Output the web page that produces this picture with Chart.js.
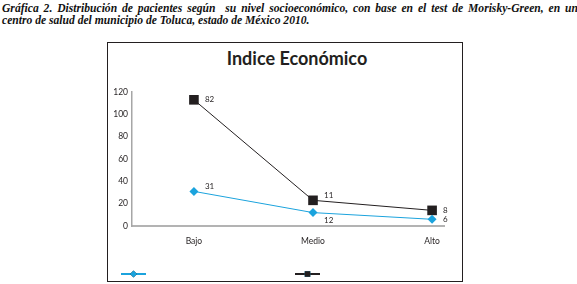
<!DOCTYPE html>
<html>
<head>
<meta charset="utf-8">
<script src="https://cdn.jsdelivr.net/npm/chart.js@4.4.0/dist/chart.umd.min.js"></script>
<style>
  html, body { margin: 0; padding: 0; background: #fff; }
  body { width: 577px; height: 284px; position: relative; overflow: hidden; }
  .cap {
    position: absolute; left: 2px;
    font-family: "Liberation Serif", "DejaVu Serif", serif;
    font-style: italic; font-weight: bold; font-size: 11.6px; line-height: 12px;
    color: #111; white-space: nowrap;
  }
  #cap1 { top: 3px; width: 576px; text-align: justify; text-align-last: justify; white-space: normal; }
  #cap2 { top: 15px; }
  #frame {
    position: absolute; left: 107px; top: 42px; width: 356px; height: 240px;
    border: 1.5px solid #231f20; box-sizing: border-box;
  }
  #title {
    position: absolute; left: 197px; top: 47px; width: 200px; text-align: center;
    font-family: Lato, "Open Sans", sans-serif; font-weight: bold; font-size: 18px;
    color: #231f20;
  }
  #c { position: absolute; left: 0; top: 0; }
</style>
</head>
<body>
<div class="cap" id="cap1">Gráfica 2. Distribución de pacientes según&nbsp; su nivel socioeconómico, con base en el test de Morisky-Green, en un</div>
<div class="cap" id="cap2">centro de salud del municipio de Toluca, estado de México 2010.</div>
<div id="frame"></div>
<div id="title">Indice Económico</div>
<canvas id="c" width="577" height="284"></canvas>
<script>
// categorias y valores (serie negra apilada sobre la azul)
const categorias = ['Bajo', 'Medio', 'Alto'];
const serieAzul = [31, 12, 6];
const serieNegra = [82, 11, 8];
const ticksY = [0, 20, 40, 60, 80, 100, 120];

// posicion de cada etiqueta respecto al punto
const posAzul = ['ne', 'se', 'e'];
const posNegra = ['e', 'ne', 'e'];

const azul = '#1ba3dd';
const negro = '#231f20';

const etiquetas = {
    id: 'etiquetas',
    afterDatasetsDraw(chart) {
        const ctx = chart.ctx;
        ctx.save();
        ctx.font = '8px Lato, "Open Sans", sans-serif';
        ctx.fillStyle = negro;
        ctx.textBaseline = 'middle';
        ctx.textAlign = 'left';
        chart.data.datasets.forEach((ds, i) => {
            const meta = chart.getDatasetMeta(i);
            meta.data.forEach((pt, j) => {
                const p = ds.posiciones[j];
                let dy = 0;
                if (p === 'ne') dy = -5;
                if (p === 'se') dy = 8;
                ctx.fillText(String(ds.valores[j]), pt.x + 11, pt.y + dy);
            });
        });

        // leyenda sin texto, como en el original
        const y0 = chart.chartArea.bottom + 48;
        const items = [
            { x: chart.chartArea.left - 11, color: azul, estilo: 'rectRot', r: 3.5 },
            { x: chart.chartArea.left + 163, color: negro, estilo: 'rect', r: 4 }
        ];
        items.forEach(it => {
            ctx.strokeStyle = it.color;
            ctx.lineWidth = 2;
            ctx.beginPath();
            ctx.moveTo(it.x, y0);
            ctx.lineTo(it.x + 25, y0);
            ctx.stroke();
            Chart.helpers.drawPoint(ctx, {
                pointStyle: it.estilo, radius: it.r, borderWidth: 0, rotation: 0
            }, it.x + 12.5, y0);
            ctx.fillStyle = it.color;
            ctx.fill();
        });
        ctx.restore();
    }
};

new Chart(document.getElementById('c').getContext('2d'), {
    type: 'line',
    data: {
        datasets: [
            {
                label: '',
                valores: serieAzul,
                posiciones: posAzul,
                data: serieAzul.map((v, i) => ({ x: i, y: v })),
                borderColor: azul,
                backgroundColor: azul,
                borderWidth: 1,
                pointStyle: 'rectRot',
                pointRadius: 4.5,
                pointBorderWidth: 0,
                tension: 0
            },
            {
                label: '',
                valores: serieNegra,
                posiciones: posNegra,
                data: serieNegra.map((v, i) => ({ x: i, y: v })),
                borderColor: negro,
                backgroundColor: negro,
                borderWidth: 1,
                pointStyle: 'rect',
                pointRadius: 6.8,
                pointBorderWidth: 0,
                tension: 0
            }
        ]
    },
    options: {
        responsive: false,
        animation: false,
        layout: { padding: { left: 102, right: 133, top: 92, bottom: 28 } },
        plugins: {
            legend: { display: false },
            title: { display: false },
            tooltip: { enabled: false }
        },
        scales: {
            x: {
                type: 'linear',
                min: -0.52,
                max: 2.1,
                afterBuildTicks: (scale) => { scale.ticks = categorias.map((c, i) => ({ value: i })); },
                afterFit: (scale) => { scale.height = 30; },
                ticks: {
                    callback: (v) => categorias[v],
                    font: { family: 'Lato, "Open Sans", sans-serif', size: 8.5 },
                    color: negro,
                    padding: 10,
                    maxRotation: 0
                },
                grid: { display: false, drawTicks: false },
                border: { color: '#b3b3b3', width: 2 }
            },
            y: {
                stacked: true,
                min: 0,
                max: 120,
                afterBuildTicks: (scale) => { scale.ticks = ticksY.map(v => ({ value: v })); },
                afterFit: (scale) => { scale.width = 30; },
                ticks: {
                    font: { family: 'Lato, "Open Sans", sans-serif', size: 8.5 },
                    color: negro,
                    padding: 4
                },
                grid: { display: false, drawTicks: false },
                border: { color: '#a6a6a6', width: 1.5 }
            }
        }
    },
    plugins: [etiquetas]
});
</script>
</body>
</html>
